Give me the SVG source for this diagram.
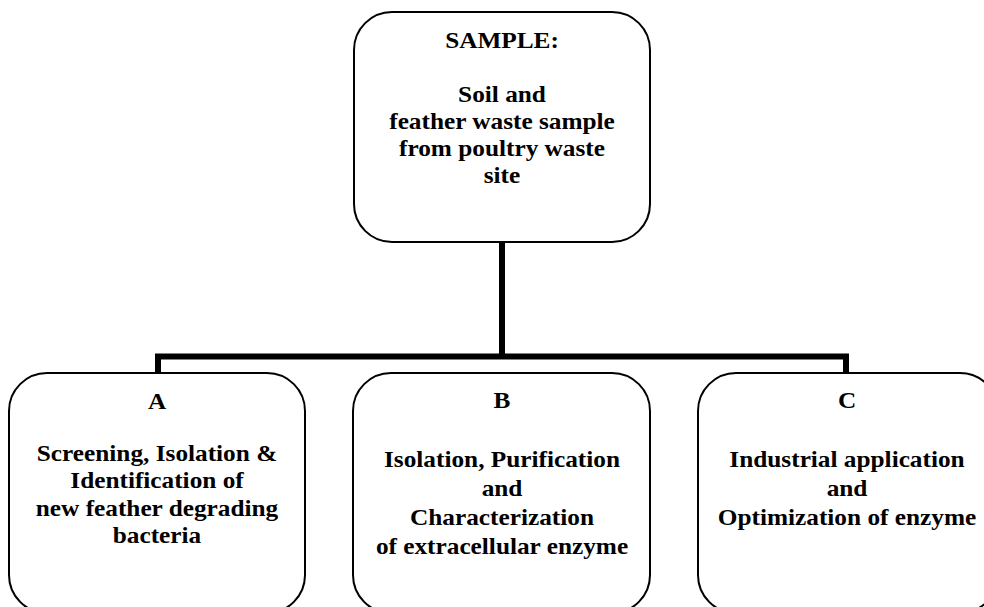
<svg xmlns="http://www.w3.org/2000/svg" width="984" height="607" viewBox="0 0 984 607">
<style>
.box{fill:#fff;stroke:#000;stroke-width:2}
.conn{fill:none;stroke:#000;stroke-width:6;stroke-linejoin:miter}
text{font-family:"Liberation Serif","Times New Roman",serif;font-weight:bold;font-size:23px;text-anchor:middle;fill:#000}
</style>
<rect width="984" height="607" fill="#fff"/>
<g id="connectors">
<path class="conn" d="M502 242 V356.5"/>
<path class="conn" d="M158 374 V356.5 H846 V374"/>
</g>
<g id="sample">
<rect class="box" x="354" y="12" width="296" height="230" rx="38" ry="38"/>
<g transform="translate(502 0) scale(1.1 1)">
<text x="0" y="48">SAMPLE:</text>
<text x="0" y="102">Soil and</text>
<text x="0" y="129">feather waste sample</text>
<text x="0" y="156">from poultry waste</text>
<text x="0" y="183">site</text>
</g>
</g>
<g id="nodeA">
<rect class="box" x="9" y="373" width="296" height="240" rx="38" ry="38"/>
<g transform="translate(157 0) scale(1.1 1)">
<text x="0" y="409">A</text>
<text x="0" y="461">Screening, Isolation &amp;</text>
<text x="0" y="488">Identification of</text>
<text x="0" y="516">new feather degrading</text>
<text x="0" y="543">bacteria</text>
</g>
</g>
<g id="nodeB">
<rect class="box" x="353" y="373" width="297" height="240" rx="38" ry="38"/>
<g transform="translate(502 0) scale(1.1 1)">
<text x="0" y="408">B</text>
<text x="0" y="467">Isolation, Purification</text>
<text x="0" y="496">and</text>
<text x="0" y="525">Characterization</text>
<text x="0" y="554">of extracellular enzyme</text>
</g>
</g>
<g id="nodeC">
<rect class="box" x="698" y="373" width="300" height="240" rx="38" ry="38"/>
<g transform="translate(847 0) scale(1.1 1)">
<text x="0" y="408">C</text>
<text x="0" y="467">Industrial application</text>
<text x="0" y="496">and</text>
<text x="0" y="525">Optimization of enzyme</text>
</g>
</g>
</svg>
